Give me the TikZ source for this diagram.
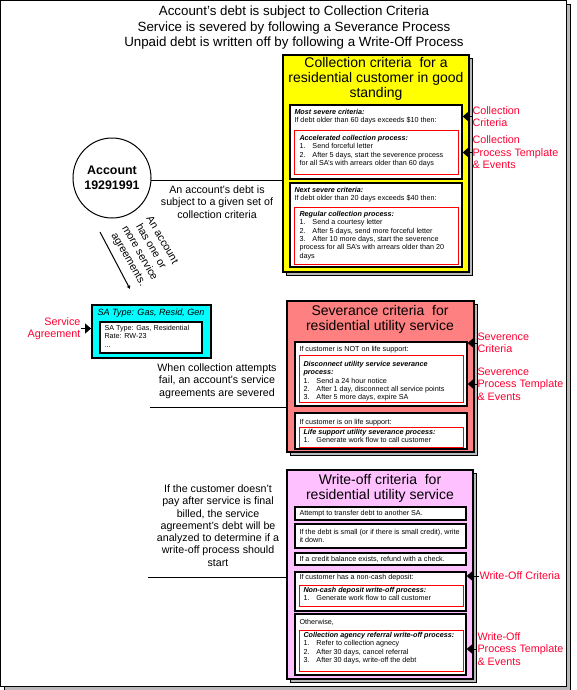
\documentclass[tikz,border=0pt]{standalone}
\usepackage{fontspec}
\setmainfont{Liberation Sans}
\usetikzlibrary{arrows.meta,fit,shapes.geometric}

\definecolor{lblred}{RGB}{255,0,51}
\definecolor{colfill}{RGB}{255,255,0}
\definecolor{sevfill}{RGB}{255,128,128}
\definecolor{wofill}{RGB}{255,192,255}
\definecolor{safill}{RGB}{0,255,255}

\tikzset{every picture/.style={line width=0.75pt}}
\tikzset{
  critbox/.style={draw, line width=1.1pt, inner sep=0pt},
  shadowbox/.style={draw, line width=0.4pt, fill=gray!55},
  rulebox/.style={draw, fill=white, line width=1pt, inner sep=0pt},
  procbox/.style={draw=red, line width=0.75pt, inner sep=0pt},
  tinytext/.style={anchor=north west, inner sep=0pt, align=left, font=\fontsize{5.4}{6.3}\selectfont},
  notetext/.style={inner sep=0pt, align=center, font=\fontsize{8}{9.2}\selectfont},
  sidetext/.style={inner sep=0pt, align=left, text=lblred, font=\fontsize{8.1}{9.4}\selectfont},
  titletext/.style={inner sep=0pt, align=center, font=\fontsize{10.5}{11.3}\selectfont},
  ptr/.style={-{Triangle[length=4.5pt,width=7.5pt]}, line width=0.75pt},
}
\newcommand{\stepno}[1]{\makebox[9.75pt][l]{#1}}

\begin{document}
\begin{tikzpicture}[x=0.75pt,y=0.75pt,yscale=-1,xscale=1]
\useasboundingbox (0,0) rectangle (576,690);

%Shape: Page frame
\draw [shadowbox] (4,4) rectangle (570,690);
\draw [fill=white] (0.5,0.5) rectangle (566,686);

% Text Node
\draw (294,28) node [inner sep=0pt, align=center, font=\fontsize{10}{11.6}\selectfont] (hdr) {Account's debt is subject to Collection Criteria\\Service is severed by following a Severance Process\\Unpaid debt is written off by following a Write-Off Process};

%Shape: Collection criteria box
\draw [shadowbox] (286,58) rectangle (472,275);
\node [critbox, fill=colfill, fit={(283,55) (469,272)}] (colbox) {};
\node [rulebox, fit={(290,105) (462,179)}] (crit1) {};
\node [procbox, fit={(294,130) (458,174)}] (proc1) {};
\node [rulebox, fit={(290,183) (462,267)}] (crit2) {};
\node [procbox, fit={(294,207) (458,264)}] (proc2) {};

% Text Node
\draw (376,79) node [titletext] (colttl) {Collection criteria\ \ for a\\residential customer in good\\standing};
% Text Node
\draw (294,108.6) node [tinytext] (crit1txt) {\textbf{\textit{Most severe criteria:}}\\If debt older than 60 days exceeds \$10 then:};
% Text Node
\draw (299,134.6) node [tinytext] (proc1txt) {\textbf{\textit{Accelerated collection process:}}\\\stepno{1.}Send forceful letter\\\stepno{2.}After 5 days, start the severence process\\for all SA's with arrears older than 60 days};
% Text Node
\draw (294,186.6) node [tinytext] (crit2txt) {\textbf{\textit{Next severe criteria:}}\\If debt older than 20 days exceeds \$40 then:};
% Text Node
\draw (299,210.6) node [tinytext] (proc2txt) {\textbf{\textit{Regular collection process:}}\\\stepno{1.}Send a courtesy letter\\\stepno{2.}After 5 days, send more forceful letter\\\stepno{3.}After 10 more days, start the severence\\process for all SA's with arrears older than 20\\days};

%Shape: Severance criteria box
\draw [shadowbox] (290,304) rectangle (477,455);
\node [critbox, fill=sevfill, fit={(287,301) (474,452)}] (sevbox) {};
\node [rulebox, fit={(295,342) (467,406)}] (sev1) {};
\node [procbox, fit={(299,355) (463,402)}] (proc3) {};
\node [rulebox, fit={(295,413) (467,449)}] (sev2) {};
\node [procbox, fit={(299,427) (463,447)}] (proc4) {};

% Text Node
\draw (380,319) node [titletext] (sevttl) {Severance criteria\ \ for\\residential utility service};
% Text Node
\draw (299,345.6) node [tinytext] (sev1txt) {If customer is NOT on life support:};
% Text Node
\draw (303,360.6) node [tinytext] (proc3txt) {\textbf{\textit{Disconnect utility service severance}}\\\textbf{\textit{process:}}\\\stepno{1.}Send a 24 hour notice\\\stepno{2.}After 1 day, disconnect all service points\\\stepno{3.}After 5 more days, expire SA};
% Text Node
\draw (299,418.6) node [tinytext] (sev2txt) {If customer is on life support:};
% Text Node
\draw (303,428.6) node [tinytext] (proc4txt) {\textbf{\textit{Life support utility severance process:}}\\\stepno{1.}Generate work flow to call customer};

%Shape: Write-off criteria box
\draw [shadowbox] (290,473) rectangle (476,682);
\node [critbox, fill=wofill, fit={(287,470) (473,679)}] (wobox) {};
\node [rulebox, fit={(295,507) (466,520)}] (wo1) {};
\node [rulebox, fit={(295,524) (466,548)}] (wo2) {};
\node [rulebox, fit={(295,553) (466,565)}] (wo3) {};
\node [rulebox, fit={(295,572) (466,611)}] (wo4) {};
\node [procbox, fit={(299,585) (463,606)}] (proc5) {};
\node [rulebox, fit={(295,614) (466,675)}] (wo5) {};
\node [procbox, fit={(299,630) (463,671)}] (proc6) {};

% Text Node
\draw (380,488) node [titletext] (wottl) {Write-off criteria\ \ for\\residential utility service};
% Text Node
\draw (299,509.6) node [tinytext] (wo1txt) {Attempt to transfer debt to another SA.};
% Text Node
\draw (299,528.6) node [tinytext] (wo2txt) {If the debt is small (or if there is small credit), write\\it down.};
% Text Node
\draw (299,555.6) node [tinytext] (wo3txt) {If a credit balance exists, refund with a check.};
% Text Node
\draw (299,573.6) node [tinytext] (wo4txt) {If customer has a non-cash deposit:};
% Text Node
\draw (303,586.6) node [tinytext] (proc5txt) {\textbf{\textit{Non-cash deposit write-off process:}}\\\stepno{1.}Generate work flow to call customer};
% Text Node
\draw (299,618.6) node [tinytext] (wo5txt) {Otherwise,};
% Text Node
\draw (303,631.6) node [tinytext] (proc6txt) {\textbf{\textit{Collection agency referral write-off process:}}\\\stepno{1.}Refer to collection agnecy\\\stepno{2.}After 30 days, cancel referral\\\stepno{3.}After 30 days, write-off the debt};

%Shape: Service agreement box
\node [critbox, line width=1.4pt, fill=safill, fit={(92,305) (211,358)}] (sabox) {};
\node [rulebox, fit={(100,322) (202,353)}] (sainner) {};
% Text Node
\draw (97,308.8) node [anchor=north west, inner sep=0pt, font=\itshape\fontsize{6.8}{8}\selectfont] (sattl) {SA Type: Gas, Resid, Gen};
% Text Node
\draw (104,324.6) node [tinytext] (satxt) {SA Type: Gas, Residential\\Rate: RW-23\\...};

%Shape: Account
\draw (112,178) node [ellipse, draw, minimum width=55.5pt, minimum height=60pt, inner sep=0pt, align=center, font=\bfseries\fontsize{9.3}{11.2}\selectfont] (acct) {Account\\19291991};

% Text Node
\draw (217,202) node [notetext] (colnote) {An account's debt is\\subject to a given set of\\collection criteria};
% Text Node
\draw (217,381) node [notetext] (sevnote) {When collection attempts\\fail, an account's service\\agreements are severed};
% Text Node
\draw (218,525.5) node [notetext] (wonote) {If the customer doesn't\\pay after service is final\\billed, the service\\agreement's debt will be\\analyzed to determine if a\\write-off process should\\start};
% Text Node
\draw (145,250) node [notetext, font=\fontsize{8}{9.7}\selectfont, rotate=-60] (hasnote) {An account\\has one or\\more service\\agreements.};

% Side labels
\draw (472,116.5) node [sidetext, anchor=west] (lblColCrit) {Collection\\Criteria};
\draw (472,152.5) node [sidetext, anchor=west] (lblColProc) {Collection\\Process Template\\\& Events};
\draw (477,343) node [sidetext, anchor=west] (lblSevCrit) {Severence\\Criteria};
\draw (477,384) node [sidetext, anchor=west] (lblSevProc) {Severence\\Process Template\\\& Events};
\draw (479,576) node [sidetext, anchor=west] (lblWoCrit) {Write-Off Criteria};
\draw (477,649) node [sidetext, anchor=west] (lblWoProc) {Write-Off\\Process Template\\\& Events};
\draw (81,328.5) node [sidetext, align=right, anchor=east] (lblSA) {Service\\Agreement};

% Connectors
\draw (acct.-4) -- (acct.-4 -| colbox.west);
\coordinate (sevNoteEnd) at (150,407);
\draw (sevNoteEnd) -- (sevNoteEnd -| sevbox.west);
\coordinate (woNoteEnd) at (148,577);
\draw (woNoteEnd) -- (woNoteEnd -| wobox.west);
\coordinate (hasFrom) at (100,232);
\coordinate (hasTo) at (130,289);
\draw [-{Triangle[length=2.5pt,width=2.5pt]}] (hasFrom) -- (hasTo);

\draw [ptr] (lblColCrit.west) -- (lblColCrit.west -| crit1.east);
\draw [ptr] (lblColProc.west) -- (lblColProc.west -| crit1.east);
\draw [ptr] (lblSevCrit.west) -- (lblSevCrit.west -| sev1.east);
\draw [ptr] (lblSevProc.west) -- (lblSevProc.west -| sev1.east);
\draw [ptr] (lblWoCrit.west) -- (lblWoCrit.west -| wo4.east);
\draw [ptr] (lblWoProc.west) -- (lblWoProc.west -| wo5.east);
\draw [ptr] (lblSA.east) -- (lblSA.east -| sabox.west);

\end{tikzpicture}
\end{document}
